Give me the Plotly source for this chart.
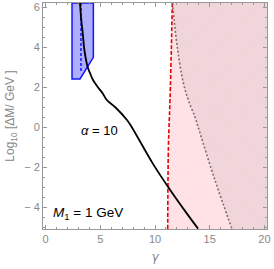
import plotly.graph_objects as go

# Black curve (alpha = 10)
curve_g = [3.15, 3.24, 3.4, 3.55, 3.85, 4.06, 4.34, 4.77, 5.2, 5.6, 6.35, 7.44, 7.87, 9.79, 11.2, 12.9, 13.96]
curve_y = [6.2, 5.5, 4.7, 3.85, 3.0, 2.7, 2.35, 2.0, 1.7, 1.35, 1.0, 0.35, 0.0, -1.82, -3.0, -4.32, -5.1]

# Red dashed boundary
red_g = [11.16, 11.18, 11.22, 11.28, 11.37, 11.49, 11.58]
red_y = [-5.1, -3.0, -1.0, 0.0, 1.35, 3.85, 6.2]

# Gray dotted boundary
gray_g = [11.6, 11.75, 12.07, 12.59, 13.04, 13.65, 14.05, 15.5, 17.03]
gray_y = [6.2, 5.35, 3.85, 2.2, 1.35, 0.5, -0.2, -2.7, -5.1]

# Blue region
blue_g = [2.42, 2.42, 3.15, 4.37, 4.37, 2.42]
blue_y = [6.2, 2.4, 2.4, 3.48, 6.2, 6.2]
blue_dash_g = [3.24, 3.24]
blue_dash_y = [6.2, 2.75]

x_edge = 20.5
x_range = [-0.23, 20.23]
y_range = [-5.1, 6.2]

fig = go.Figure()

# Light pink region right of red line
fig.add_trace(go.Scatter(
    x=red_g + [x_edge, x_edge], y=red_y + [red_y[-1], red_y[0]],
    fill="toself", mode="none", fillcolor="rgb(255,226,229)",
    fillpattern=dict(shape="x", size=22, solidity=0.03, fgcolor="rgba(240,180,185,0.6)",
                     bgcolor="rgb(255,226,229)"),
    hoverinfo="skip", showlegend=False))
# Darker region right of gray dotted line
fig.add_trace(go.Scatter(
    x=gray_g + [x_edge, x_edge], y=gray_y + [gray_y[-1], gray_y[0]],
    fill="toself", mode="none", fillcolor="rgba(180,171,174,0.2)",
    hoverinfo="skip", showlegend=False))
# Blue region
fig.add_trace(go.Scatter(
    x=blue_g, y=blue_y, fill="toself", mode="lines",
    line=dict(color="rgb(20,20,255)", width=1.5),
    fillcolor="rgb(175,175,255)",
    fillpattern=dict(shape="x", size=8, solidity=0.08, fgcolor="rgba(140,140,250,0.7)",
                     bgcolor="rgb(175,175,255)"),
    hoverinfo="skip", showlegend=False))
fig.add_trace(go.Scatter(
    x=blue_dash_g, y=blue_dash_y, mode="lines",
    line=dict(color="rgb(20,20,255)", width=1.5, dash="3px,2px"),
    showlegend=False))
# Red dashed
fig.add_trace(go.Scatter(
    x=red_g, y=red_y, mode="lines", line=dict(color="rgb(235,0,0)", width=1.6, dash="4px,2px"),
    line_shape="spline", showlegend=False))
# Gray dotted
fig.add_trace(go.Scatter(
    x=gray_g, y=gray_y, mode="lines", line=dict(color="rgb(120,110,110)", width=1.6, dash="2px,2px"),
    line_shape="spline", showlegend=False))
# Black curve
fig.add_trace(go.Scatter(
    x=curve_g, y=curve_y, mode="lines", line=dict(color="black", width=1.8),
    line_shape="spline", showlegend=False))

fig.add_annotation(x=4.9, y=-0.15, text="<i>α</i> = 10", showarrow=False,
                   font=dict(size=13, color="black", family="Liberation Sans"))
fig.add_annotation(x=3.85, y=-4.3, text="<i>M</i><sub>1</sub> = 1 GeV", showarrow=False,
                   font=dict(size=13.5, color="black", family="Liberation Sans"))

axis_common = dict(
    showgrid=False, zeroline=False, showline=True, linecolor="#999", linewidth=1,
    mirror="allticks", ticks="inside", ticklen=4, tickcolor="#999", automargin=False,
    tickfont=dict(size=11, color="#888", family="Liberation Sans"),
)
fig.update_xaxes(range=x_range, tickvals=[0, 5, 10, 15, 20], ticktext=["0", "5", "10", "15", "20"],
                 minor=dict(dtick=1, ticks="inside", ticklen=2, tickcolor="#999"),
                 title=dict(text="<i>γ</i>", font=dict(size=12, color="#888", family="DejaVu Sans"), standoff=8),
                 **axis_common)
fig.update_yaxes(range=y_range, tickvals=[-4, -2, 0, 2, 4, 6], ticktext=["− 4", "− 2", "0", "2", "4", "6"],
                 minor=dict(dtick=0.5, ticks="inside", ticklen=2, tickcolor="#999"),
                 title=dict(text="Log<sub>10</sub> [ΔM/ GeV ]", font=dict(size=12, color="#888", family="Liberation Sans"), standoff=6),
                 **axis_common)
fig.update_layout(width=274, height=269, margin=dict(l=43, r=7, t=3, b=40),
                  plot_bgcolor="white", paper_bgcolor="white")
fig.write_html("out.html", config={"displayModeBar": False},
               post_script="document.body.style.margin='0px';")
